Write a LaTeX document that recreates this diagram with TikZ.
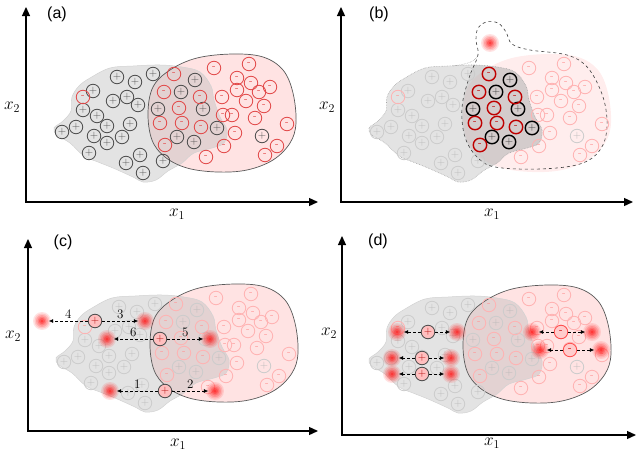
\documentclass[tikz,border=0pt]{standalone}
\usepackage{fontspec}
\newfontfamily\labelfont{Liberation Sans}
\usetikzlibrary{arrows.meta}

\definecolor{negred}{RGB}{226,72,72}

% sample positions, in the pixel frame of one panel
\newcommand{\plusout}{117/77,135/82,153/74,93/91,127/97,113/101,138/105,83/110,97/116,107/126,130/124,62/132,76/127,94/136,107/143,122/137,89/153,140/155,126/163,143/173,163/161,262/136}
\newcommand{\plusin}{195/80,181/92,158/109,203/109,217/128,177/137,194/142}
\newcommand{\minusout}{83/97,214/68,249/64,237/78,251/83,237/90,222/97,246/101,259/92,270/87,264/106,223/115,232/115,255/118,235/133,287/124,224/146,277/146,265/155,206/157}
\newcommand{\minusin}{174/74,164/92,200/97,179/108,160/123,182/123,201/127,165/145}

% the two class regions
\newcommand{\grayblob}{plot[smooth cycle,tension=0.6] coordinates {(90,78) (110,68) (133,66) (160,65) (182,67) (200,72) (211,86) (214,100) (220,117) (227,130) (224,143) (212,148) (194,153) (182,163) (168,171) (156,180) (143,182) (133,177) (113,168) (98,162) (84,156) (70,143) (57,135) (54,128) (63,121) (71,111) (72,97) (79,86)}}
\newcommand{\pinkblob}{plot[smooth cycle,tension=0.6] coordinates {(233,54) (263,57) (283,70) (293,93) (296,123) (290,143) (273,160) (247,170) (217,172) (187,168) (165,157) (152,140) (148,113) (153,87) (170,70) (197,58)}}

% blurred synthetic sample
\newcommand{\glow}[1]{\foreach \rr/\oo in {9/0.12,7.5/0.15,6/0.2,4.5/0.25,3/0.35,1.5/0.45} {\fill[red!90!white,opacity=\oo] (#1) circle (\rr);}}

\begin{document}
\begin{tikzpicture}[x=1pt,y=-1pt]
\useasboundingbox (0,0) rectangle (640,455);

\tikzstyle{pluscirc}=[circle,draw=gray!60!black,text=gray!60!black,minimum size=13.5pt,inner sep=0pt,line width=0.8pt,font=\sffamily\fontsize{11}{11}\selectfont]
\tikzstyle{minuscirc}=[pluscirc,draw=negred,text=negred]
\tikzstyle{fadeplus}=[pluscirc,draw=gray!40,text=gray!55]
\tikzstyle{fademinus}=[pluscirc,draw=red!30,text=red!40]
\tikzstyle{boldplus}=[pluscirc,draw=black,text=black!80,line width=1.4pt]
\tikzstyle{boldminus}=[pluscirc,draw=red!75!black,text=red!75!black,line width=1.4pt]
\tikzstyle{hiplus}=[pluscirc,fill=red!25,text=red!70!black]
\tikzstyle{himinus}=[pluscirc,draw=red!70,fill=red!20,text=red!80!black]
\tikzstyle{synpt}=[circle,minimum size=13pt,inner sep=0pt]
\tikzstyle{synarrow}=[densely dashed,line width=0.7pt,-{Latex[length=4.5pt,width=4pt]}]
\tikzstyle{axisline}=[line width=1.3pt,{Triangle[length=9pt,width=8pt]}-{Triangle[length=9pt,width=8pt]}]
\tikzstyle{graybg}=[fill=gray!55,fill opacity=0.4]
\tikzstyle{panellabel}=[font=\labelfont\fontsize{16}{16}\selectfont]
\tikzstyle{axlabel}=[font=\fontsize{18}{18}\selectfont]
\tikzstyle{steplabel}=[font=\fontsize{13}{13}\selectfont,inner sep=2pt]

% (a) the original samples
\begin{scope}
\fill[red!11] \pinkblob;
\fill[graybg] \grayblob;
\draw[gray!35,line width=0.5pt] \grayblob;
\draw[gray!70!black,line width=0.7pt] \pinkblob;
\foreach \x/\y [count=\i] in \plusout \node[pluscirc] (ap\i) at (\x,\y) {+};
\foreach \x/\y [count=\i] in \plusin \node[pluscirc] (aq\i) at (\x,\y) {+};
\foreach \x/\y [count=\i] in \minusout \node[minuscirc] (am\i) at (\x,\y) {-};
\foreach \x/\y [count=\i] in \minusin \node[minuscirc] (an\i) at (\x,\y) {-};
\coordinate (ay) at (26,7);
\coordinate (ao) at (26,202);
\coordinate (ax) at (318,202);
\draw[axisline] (ay) -- (ao) -- (ax);
\node[panellabel] (alab) at (57,14) {(a)};
\node[axlabel] (ax1) at (177,214) {$x_1$};
\node[axlabel] (ax2) at (12,107) {$x_2$};
\end{scope}

% (b) the overlap region and a sample drawn into it
\begin{scope}[shift={(315,0)}]
\fill[red!7] \pinkblob;
\fill[graybg] \grayblob;
\begin{scope}
\clip plot[smooth cycle,tension=0.6] coordinates {(163,55) (155,75) (148,100) (147,120) (151,140) (162,157) (180,167) (225,169) (265,164) (285,150) (292,127) (288,97) (273,68) (252,55) (215,50) (197,44) (191,32) (183,23) (171,22) (163,28) (161,40)};
\fill[gray!60,fill opacity=0.3] \grayblob;
\end{scope}
\draw[gray!70,densely dotted,line width=0.6pt] \grayblob;
\draw[gray!70,densely dotted,line width=0.6pt] (138,66) .. controls (152,64) and (160,62) .. (163,55);
\draw[gray!50!black,dashed,line width=0.6pt] plot[smooth cycle,tension=0.6] coordinates {(163,55) (155,75) (148,100) (147,120) (151,140) (162,157) (180,167) (225,169) (265,164) (285,150) (292,127) (288,97) (273,68) (252,55) (215,50) (197,44) (191,32) (183,23) (171,22) (163,28) (161,40)};
\foreach \x/\y [count=\i] in \plusout \node[fadeplus] (bp\i) at (\x,\y) {+};
\foreach \x/\y [count=\i] in \minusout \node[fademinus] (bm\i) at (\x,\y) {-};
\foreach \x/\y [count=\i] in \plusin \node[boldplus] (bq\i) at (\x,\y) {+};
\foreach \x/\y [count=\i] in \minusin \node[boldminus] (bn\i) at (\x,\y) {-};
\node[synpt] (bsyn) at (175,43) {};
\glow{bsyn}
\coordinate (by) at (26,7);
\coordinate (bo) at (26,202);
\coordinate (bx) at (318,202);
\draw[axisline] (by) -- (bo) -- (bx);
\node[panellabel] (blab) at (64,14) {(b)};
\node[axlabel] (bx1) at (177,214) {$x_1$};
\node[axlabel] (bx2) at (12,107) {$x_2$};
\end{scope}

% (c) numbered steps from three positive samples
\begin{scope}[shift={(2,230)}]
\fill[red!11] \pinkblob;
\fill[graybg] \grayblob;
\draw[gray!35,line width=0.5pt] \grayblob;
\draw[gray!70!black,line width=0.7pt] \pinkblob;
\foreach \x/\y [count=\i] in \plusout \node[fadeplus] (cp\i) at (\x,\y) {+};
\foreach \x/\y [count=\i] in \plusin \node[fadeplus] (cq\i) at (\x,\y) {+};
\foreach \x/\y [count=\i] in \minusout \node[fademinus] (cm\i) at (\x,\y) {-};
\foreach \x/\y [count=\i] in \minusin \node[fademinus] (cn\i) at (\x,\y) {-};
\node[hiplus] (chi1) at (93,91) {+};
\node[hiplus] (chi2) at (158,109) {+};
\node[hiplus] (chi3) at (163,161) {+};
\node[synpt] (cl1) at (40,91) {};
\node[synpt] (cr1) at (143,91) {};
\node[synpt] (cl2) at (105,109) {};
\node[synpt] (cr2) at (208,109) {};
\node[synpt] (cl3) at (108,161) {};
\node[synpt] (cr3) at (213,161) {};
\foreach \n in {cl1,cr1,cl2,cr2,cl3,cr3} {\glow{\n}}
\draw[synarrow] (chi1) -- node[steplabel,above] {4} (cl1);
\draw[synarrow] (chi1) -- node[steplabel,above] {3} (cr1);
\draw[synarrow] (chi2) -- node[steplabel,above] {6} (cl2);
\draw[synarrow] (chi2) -- node[steplabel,above] {5} (cr2);
\draw[synarrow] (chi3) -- node[steplabel,above] {1} (cl3);
\draw[synarrow] (chi3) -- node[steplabel,above] {2} (cr3);
\coordinate (cy) at (26,9);
\coordinate (co) at (26,201);
\coordinate (cx) at (316,201);
\draw[axisline] (cy) -- (co) -- (cx);
\node[panellabel] (clab) at (61,12) {(c)};
\node[axlabel] (cx1) at (176,214) {$x_1$};
\node[axlabel] (cx2) at (11,106) {$x_2$};
\end{scope}

% (d) samples drawn on both sides of each class
\begin{scope}[shift={(315,231)}]
\fill[red!11] \pinkblob;
\fill[graybg] \grayblob;
\draw[gray!35,line width=0.5pt] \grayblob;
\draw[gray!70!black,line width=0.7pt] \pinkblob;
\foreach \x/\y [count=\i] in \plusout \node[fadeplus] (dp\i) at (\x,\y) {+};
\foreach \x/\y [count=\i] in \plusin \node[fadeplus] (dq\i) at (\x,\y) {+};
\foreach \x/\y [count=\i] in \minusout \node[fademinus] (dm\i) at (\x,\y) {-};
\foreach \x/\y [count=\i] in \minusin \node[fademinus] (dn\i) at (\x,\y) {-};
\node[hiplus] (dhi1) at (113,101) {+};
\node[hiplus] (dhi2) at (107,127) {+};
\node[hiplus] (dhi3) at (107,143) {+};
\node[himinus] (dhi4) at (246,101) {-};
\node[himinus] (dhi5) at (255,119) {-};
\node[synpt] (dl1) at (82,101) {};
\node[synpt] (dr1) at (142,101) {};
\node[synpt] (dl2) at (77,127) {};
\node[synpt] (dr2) at (136,127) {};
\node[synpt] (dl3) at (77,143) {};
\node[synpt] (dr3) at (136,143) {};
\node[synpt] (dl4) at (217,101) {};
\node[synpt] (dr4) at (277,101) {};
\node[synpt] (dl5) at (225,119) {};
\node[synpt] (dr5) at (286,119) {};
\foreach \i in {1,...,5} {
  \glow{dl\i}
  \glow{dr\i}
  \draw[synarrow] (dhi\i) -- (dl\i);
  \draw[synarrow] (dhi\i) -- (dr\i);
}
\coordinate (dy) at (27,5);
\coordinate (do) at (27,204);
\coordinate (dx) at (321,204);
\draw[axisline] (dy) -- (do) -- (dx);
\node[panellabel] (dlab) at (63,10) {(d)};
\node[axlabel] (dx1) at (177,212) {$x_1$};
\node[axlabel] (dx2) at (14,102) {$x_2$};
\end{scope}

\end{tikzpicture}
\end{document}
